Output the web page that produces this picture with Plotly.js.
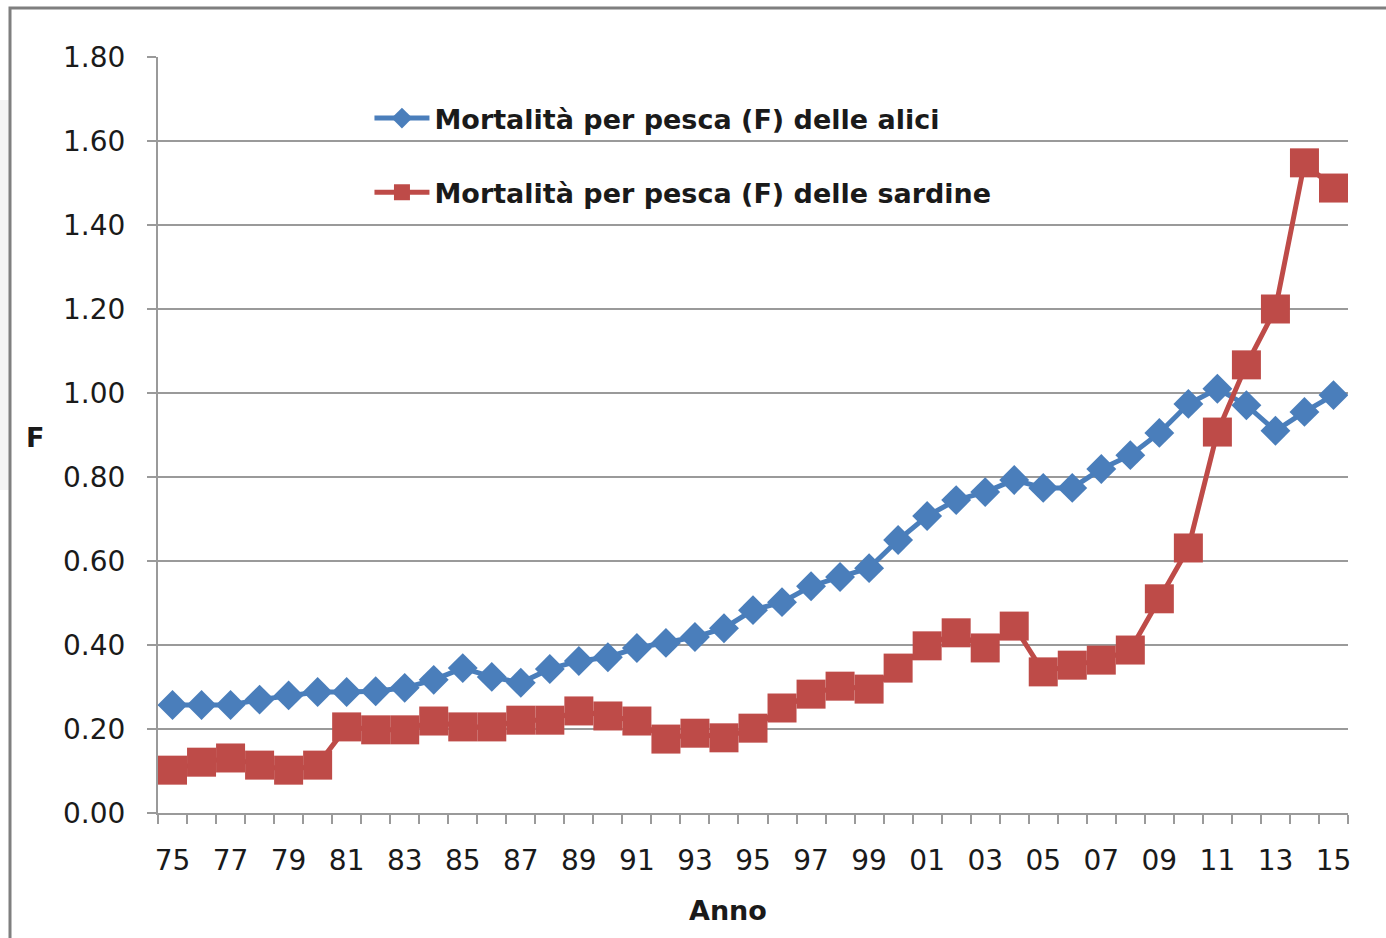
<!DOCTYPE html>
<html>
<head>
<meta charset="utf-8">
<script src="https://cdn.plot.ly/plotly-3.0.1.min.js"></script>
<style>
html,body{margin:0;padding:0;background:#fff;}
#chart{width:1386px;height:938px;}
</style>
</head>
<body>
<div id="chart"></div>
<script>
// Data
const years = [1975,1976,1977,1978,1979,1980,1981,1982,1983,1984,1985,1986,1987,1988,1989,1990,1991,1992,1993,1994,1995,1996,1997,1998,1999,2000,2001,2002,2003,2004,2005,2006,2007,2008,2009,2010,2011,2012,2013,2014,2015];
const alici = [0.257,0.257,0.257,0.270,0.280,0.288,0.288,0.290,0.298,0.317,0.345,0.324,0.310,0.343,0.362,0.371,0.393,0.405,0.419,0.440,0.483,0.502,0.540,0.562,0.583,0.650,0.707,0.745,0.764,0.793,0.774,0.774,0.819,0.852,0.905,0.974,1.010,0.971,0.910,0.955,0.995];
const sardine = [0.102,0.121,0.131,0.114,0.102,0.114,0.205,0.198,0.198,0.219,0.205,0.205,0.221,0.221,0.243,0.231,0.219,0.176,0.190,0.179,0.202,0.250,0.283,0.302,0.295,0.345,0.398,0.429,0.393,0.445,0.336,0.352,0.364,0.388,0.510,0.631,0.907,1.067,1.200,1.548,1.488];
const tickYears = [1975,1977,1979,1981,1983,1985,1987,1989,1991,1993,1995,1997,1999,2001,2003,2005,2007,2009,2011,2013,2015];
const tickLabels = ["75","77","79","81","83","85","87","89","91","93","95","97","99","01","03","05","07","09","11","13","15"];
const nameAlici = "Mortalità per pesca (F) delle alici";
const nameSardine = "Mortalità per pesca (F) delle sardine";
const xTitle = "Anno";
const yTitle = "F";

const blue = "#4A7EBB";
const red = "#BE4B48";
const gridCol = "#9a9a9a";
const txtCol = "#1a1a1a";
const font = "DejaVu Sans, Verdana, sans-serif";

const traces = [
  {
    x: years, y: alici, name: nameAlici, type: "scatter", mode: "lines+markers",
    legendgroup: "a",
    line: {color: blue, width: 5},
    marker: {symbol: "diamond", size: 23, color: blue}
  },
  {
    x: years, y: sardine, name: nameSardine, type: "scatter", mode: "lines+markers",
    legendgroup: "s",
    line: {color: red, width: 5},
    marker: {symbol: "square", size: 29, color: red}
  }
];

const layout = {
  width: 1386, height: 938,
  margin: {l: 158, r: 38, t: 57, b: 125, pad: 0},
  paper_bgcolor: "#fff", plot_bgcolor: "#fff",
  font: {family: font, color: txtCol, size: 26},
  showlegend: true,
  legend: {
    x: 0.1777, y: 0.951, xanchor: "left", yanchor: "top",
    bgcolor: "rgba(0,0,0,0)",
    font: {family: font, size: 27, color: txtCol, weight: "bold"},
    traceorder: "grouped", tracegroupgap: 36,
    itemwidth: 55
  },
  xaxis: {
    type: "linear",
    range: [1974.5, 2015.5],
    tickmode: "array", tickvals: tickYears, ticktext: tickLabels,
    ticks: "",
    ticklabelstandoff: 21,
    tickfont: {family: font, size: 28, color: txtCol},
    showgrid: false, zeroline: false,
    showline: true, linecolor: gridCol, linewidth: 2,
    minor: {ticks: "outside", ticklen: 9, tickwidth: 2, tickcolor: gridCol, tick0: 1974.5, dtick: 1, showgrid: false},
    fixedrange: true
  },
  yaxis: {
    range: [0, 1.8],
    dtick: 0.2, tick0: 0, tickformat: ".2f",
    ticks: "outside", ticklen: 9, tickwidth: 2, tickcolor: gridCol,
    ticklabelstandoff: 16,
    tickfont: {family: font, size: 28, color: txtCol},
    showgrid: true, gridcolor: gridCol, gridwidth: 1.5,
    zeroline: false,
    showline: true, linecolor: gridCol, linewidth: 2,
    fixedrange: true
  },
  annotations: [
    {text: yTitle, xref: "paper", yref: "paper", x: (35 - 158) / 1190, y: (813 - 437) / 756,
     xanchor: "center", yanchor: "middle", showarrow: false,
     font: {family: font, size: 27, color: txtCol, weight: "bold"}},
    {text: xTitle, xref: "paper", yref: "paper", x: (728 - 158) / 1190, y: (813 - 910) / 756,
     xanchor: "center", yanchor: "middle", showarrow: false,
     font: {family: font, size: 27, color: txtCol, weight: "bold"}}
  ],
  shapes: [
    {type: "rect", xref: "paper", yref: "paper",
     x0: (0 - 158) / 1190, x1: (9 - 158) / 1190, y0: (813 - 490) / 756, y1: (813 - 100) / 756,
     fillcolor: "#f4f4f4", line: {width: 0}, layer: "below"},
    {type: "rect", xref: "paper", yref: "paper",
     x0: (10 - 158) / 1190, x1: 1.2, y0: -0.3, y1: (813 - 8) / 756,
     fillcolor: "rgba(0,0,0,0)", line: {color: "#7f7f7f", width: 3}}
  ]
};

Plotly.newPlot("chart", traces, layout, {displayModeBar: false, staticPlot: true});
</script>
</body>
</html>
